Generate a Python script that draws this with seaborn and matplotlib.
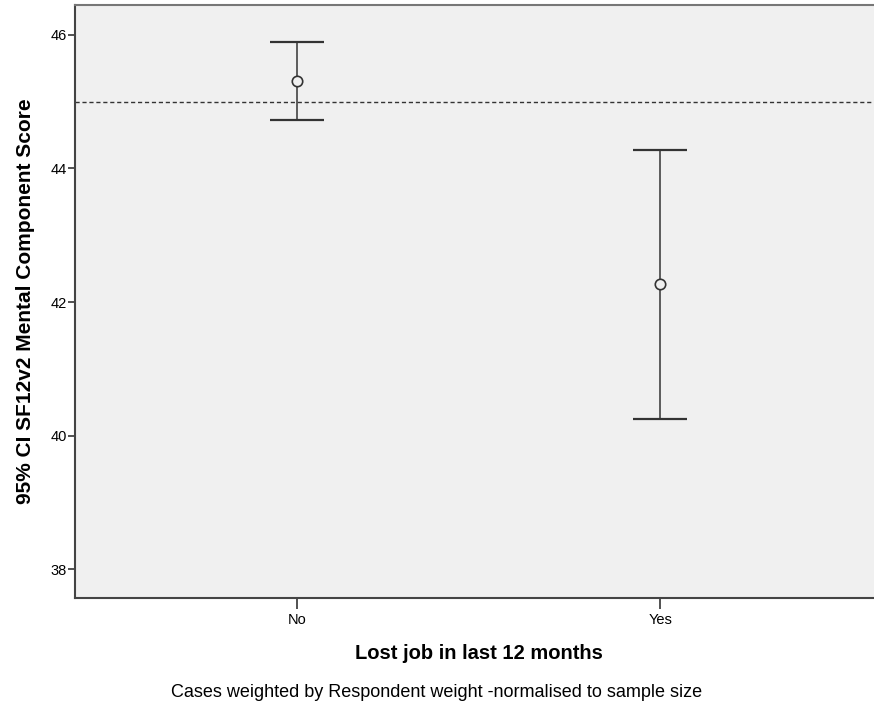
import numpy as np
import pandas as pd
import matplotlib
matplotlib.use('Agg')
import matplotlib.pyplot as plt
import seaborn as sns

# values
groups = ['No', 'Yes']
means = [45.31, 42.27]
ci_low = [44.73, 40.25]
ci_high = [45.89, 44.28]
ref_line = 45.0
y_ticks = [38, 40, 42, 44, 46]

df = pd.DataFrame({'group': groups, 'mean': means, 'lo': ci_low, 'hi': ci_high})

sns.set_style('white')
plt.rcParams['font.family'] = ['Liberation Sans', 'DejaVu Sans']
plt.rcParams['text.color'] = 'black'
plt.rcParams['axes.labelcolor'] = 'black'
plt.rcParams['xtick.color'] = 'black'
plt.rcParams['ytick.color'] = 'black'

fig = plt.figure(figsize=(8.74, 7.13), dpi=100)
ax = fig.add_axes([0.0858, 0.1613, 0.9142 + 0.01, 0.832])
ax.set_facecolor('#f0f0f0')

# CI whiskers
err = np.array([df['mean'] - df['lo'], df['hi'] - df['mean']])
eb = ax.errorbar(np.arange(len(groups)), df['mean'], yerr=err, fmt='none',
                 ecolor='#333333', elinewidth=1.1, capsize=19.5, capthick=1.6, zorder=2)
for cap in eb[1]:
    cap.set_color('#666666')

# means as hollow circles
sns.pointplot(data=df, x='group', y='mean', order=groups, linestyle='none',
              markers='o', errorbar=None, color='#333333', ax=ax,
              markerfacecolor='#f0f0f0', markeredgecolor='#333333',
              markersize=7.5, markeredgewidth=1.2, zorder=3)

ax.axhline(ref_line, color='#333333', linestyle=(0, (3, 2)), linewidth=1, zorder=1)

ax.set_xlim(-0.612, 1.612)
ax.set_ylim(37.57, 46.45)
ax.set_yticks(y_ticks)
ax.set_yticklabels([str(t) for t in y_ticks], fontsize=10.5)
ax.set_xticks(range(len(groups)))
ax.set_xticklabels(groups, fontsize=10.5)
ax.tick_params(axis='y', direction='out', length=5, width=1.2, color='#333333', pad=1, left=True)
ax.tick_params(axis='x', direction='out', length=8, width=1.2, color='#333333', pad=3, bottom=True)

for side in ['left', 'bottom']:
    ax.spines[side].set_color('#444444')
    ax.spines[side].set_linewidth(1.5)
ax.spines['top'].set_color('#777777')
ax.spines['top'].set_linewidth(1.5)
ax.spines['right'].set_visible(False)

ax.set_xlabel('Lost job in last 12 months', fontsize=14.5, fontweight='bold', labelpad=12)
ax.set_ylabel('95% CI SF12v2 Mental Component Score', fontsize=15,
              fontweight='bold', labelpad=11)

fig.text(0.5, 0.029, 'Cases weighted by Respondent weight -normalised to sample size',
         ha='center', va='center', fontsize=13)

fig.savefig('out.png', dpi=100)
